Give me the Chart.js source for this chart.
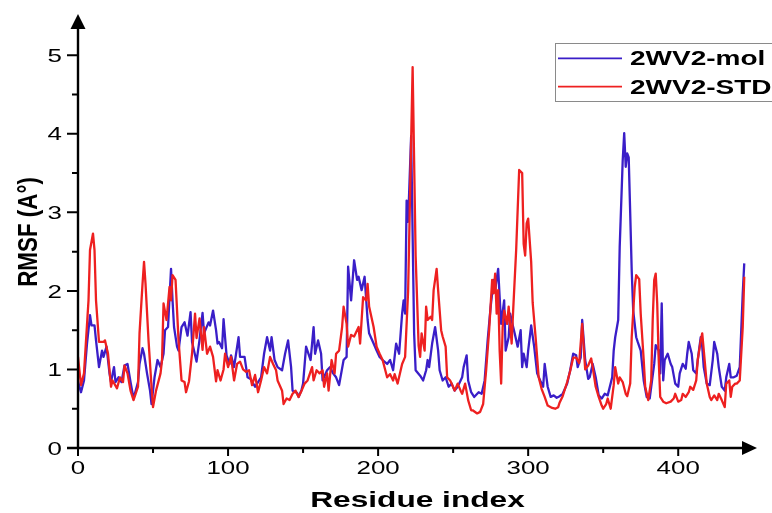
<!DOCTYPE html>
<html>
<head>
<meta charset="utf-8">
<script src="https://cdn.jsdelivr.net/npm/chart.js@4"></script>
<style>
html,body{margin:0;padding:0;background:#fff;}
canvas{display:block;}
</style>
</head>
<body>
<canvas id="c" width="772" height="513"></canvas>
<script>
// ---- data ----
const seriesNames = ["2WV2-mol", "2WV2-STD"];
const molResidue = [0,2,4,6,8,9,11,12,14,16,17,19,21,22,24,25,27,29,31,33,35,37,40,41,43,44,46,48,49,51,53,55,57,58,60,61,62,63,64,66,67,69,71,73,75,76,79,81,83,84,87,88,90,92,93,94,96,97,99,101,102,104,107,108,111,113,115,118,120,122,124,126,128,129,131,133,136,138,140,142,143,146,147,149,150,152,155,157,158,160,162,163,166,168,170,172,174,177,179,180,182,184,186,187,189,191,193,194,197,199,201,203,206,208,210,212,214,216,217,218,219,220,222,224,225,228,230,232,233,234,236,238,240,241,243,245,247,249,251,253,256,257,259,260,262,264,267,269,271,273,275,277,278,280,281,282,284,285,287,288,290,291,293,295,296,297,299,300,302,304,306,308,310,311,313,315,317,319,321,323,326,328,330,332,333,335,336,338,340,341,343,345,347,349,351,353,356,357,358,360,361,363,364,365,366,367,368,369,370,372,373,375,377,379,381,382,384,385,387,388,389,390,391,393,395,396,398,400,401,403,405,406,407,409,410,412,413,415,416,417,419,421,423,424,426,427,429,431,432,434,435,437,439,441,443,444];
const molRmsf = [0.85,0.71,0.86,1.33,1.69,1.56,1.56,1.37,1.03,1.24,1.16,1.29,0.95,0.84,1.03,0.84,0.9,0.84,1.05,1.07,0.84,0.63,0.84,1.07,1.27,1.2,0.95,0.73,0.56,0.9,1.12,1.03,1.2,1.5,1.54,1.92,2.28,1.88,1.54,1.29,1.24,1.54,1.6,1.43,1.73,1.35,1.1,1.38,1.72,1.46,1.6,1.56,1.75,1.5,1.33,1.35,1.27,1.64,1.18,1.07,1.18,1.03,1.41,1.16,1.16,0.9,0.88,0.78,0.84,0.9,1.2,1.41,1.24,1.41,1.12,1.03,0.99,1.2,1.37,1.03,0.73,0.7,0.65,0.74,0.82,1.29,1.12,1.54,1.2,1.37,1.2,0.86,0.99,1.03,0.95,0.9,0.8,1.12,1.16,2.31,1.88,2.39,2.14,2.18,2.01,2.18,1.63,1.46,1.33,1.24,1.16,1.12,1.07,1.12,0.99,1.33,1.2,1.71,1.88,1.71,3.15,2.88,3.97,1.46,0.99,0.92,0.86,0.99,1.12,1.03,1.33,1.54,1.24,0.99,0.86,0.9,0.78,0.82,0.73,0.78,0.9,1.03,1.18,0.86,0.71,0.65,0.71,0.69,0.86,1.37,1.8,2.14,2.01,2.28,1.92,1.58,1.88,1.24,1.41,1.71,1.54,1.46,1.29,1.5,1.03,1.2,1.03,1.24,1.56,1.29,0.95,0.86,0.78,1.07,0.78,0.65,0.67,0.64,0.66,0.69,0.82,0.99,1.2,1.18,1.03,1.15,1.63,1.12,0.88,0.9,1.07,0.9,0.67,0.63,0.69,0.67,0.9,1.24,1.41,1.63,2.56,3.66,4.01,3.58,3.75,3.7,2.99,2.26,1.75,1.41,1.35,1.24,0.86,0.65,0.63,0.78,1.07,1.31,1.24,0.95,1.84,0.86,1.12,1.2,1.07,1.03,0.82,0.78,0.95,1.07,1.01,1.2,1.35,1.2,0.99,0.95,1.12,1.41,1.29,1.03,0.82,0.8,1.12,1.35,1.2,1.03,0.78,0.73,0.9,1.07,0.9,0.9,0.92,1.03,1.97,2.35];
const stdResidue = [0,2,4,7,8,10,11,12,14,17,18,20,22,23,26,28,30,31,33,35,37,40,41,43,44,45,47,49,50,52,55,56,57,59,61,62,63,65,67,69,71,72,74,76,78,79,81,83,84,86,88,90,92,93,95,97,98,100,102,104,106,108,110,112,114,116,118,120,122,124,126,128,130,132,133,136,137,139,141,143,145,147,149,151,153,156,157,159,161,163,164,166,167,169,171,172,174,176,177,179,180,182,184,187,188,190,192,193,194,197,199,201,203,206,208,210,211,213,216,218,220,221,223,225,227,228,229,230,231,232,233,235,236,237,239,240,242,243,245,246,248,249,251,253,255,256,258,260,262,263,266,268,270,272,274,276,277,278,279,280,281,282,283,284,286,287,289,290,292,294,296,297,298,299,300,302,303,305,307,309,311,313,316,318,320,321,323,326,328,330,332,334,336,337,338,340,342,343,345,347,349,350,352,353,355,357,358,360,361,363,365,366,368,369,371,372,374,375,377,378,380,382,383,384,385,386,387,388,390,392,395,397,398,400,402,403,405,407,408,410,412,413,415,416,417,419,421,422,424,426,427,429,431,432,434,435,436,438,439,441,443,444];
const stdRmsf = [1.16,0.8,0.95,1.88,2.52,2.73,2.52,1.88,1.35,1.35,1.37,1.2,0.78,0.86,0.76,0.9,0.84,1.05,0.95,0.73,0.61,0.78,1.46,2.09,2.37,2.09,1.37,0.78,0.52,0.73,0.95,1.12,1.84,1.63,2.05,1.88,2.2,2.14,1.37,0.86,0.84,0.71,0.85,1.2,1.71,1.4,1.65,1.25,1.54,1.2,1.29,1.16,0.85,0.99,0.86,1.0,1.2,1.03,1.16,0.86,1.07,1.1,1.0,0.97,0.99,0.8,0.93,0.71,0.86,1.03,0.95,1.16,1.07,0.99,0.86,0.73,0.56,0.63,0.61,0.69,0.73,0.65,0.73,0.82,0.86,1.03,0.86,0.99,0.95,0.99,0.78,0.95,0.73,1.12,0.95,1.2,1.24,1.54,1.8,1.58,1.29,1.44,1.42,1.54,1.33,1.92,1.88,2.09,1.8,1.54,1.29,1.2,1.12,0.9,0.94,0.86,0.94,0.82,1.07,1.16,2.0,2.94,4.85,2.45,1.3,1.16,1.46,1.35,1.24,1.8,1.63,1.67,1.63,2.01,2.28,2.01,1.5,1.42,1.29,0.9,0.86,0.82,0.73,0.82,0.73,0.69,0.82,0.61,0.48,0.48,0.44,0.46,0.56,0.99,1.5,2.14,1.97,2.22,1.71,2.01,1.24,0.82,1.54,1.75,1.58,1.8,1.33,1.75,2.52,3.54,3.5,2.6,2.45,2.86,2.92,2.37,1.85,1.4,0.9,0.75,0.65,0.54,0.51,0.5,0.52,0.58,0.66,0.84,0.98,1.15,1.15,1.08,1.58,1.29,1.0,1.05,1.14,1.03,0.78,0.65,0.54,0.5,0.56,0.63,0.5,0.8,1.03,0.82,0.9,0.84,0.69,0.66,0.82,1.41,2.05,2.2,2.15,1.71,1.12,0.78,0.61,0.86,1.63,2.14,2.22,1.84,1.12,0.65,0.59,0.57,0.59,0.63,0.69,0.59,0.61,0.69,0.65,0.71,0.78,0.74,0.86,1.12,1.37,1.46,1.25,0.82,0.65,0.61,0.67,0.61,0.69,0.61,0.52,0.82,0.86,0.65,0.78,0.82,0.82,0.86,1.54,2.18];
const xTickLabels = [0, 100, 200, 300, 400];
const xMinorTicks = [50, 150, 250, 350];
const yTickLabels = [0, 1, 2, 3, 4, 5];
const yMinorTicks = [0.5, 1.5, 2.5, 3.5, 4.5];
const xTitle = "Residue index";
const yTitle = "RMSF (A°)";

// ---- styling ----
const MOL_COLOR = "#3a1ec8";
const STD_COLOR = "#ee2020";
const FONT = "'Liberation Sans', Arial, sans-serif";
const STRETCH = 1.4;

function pts(xs, ys) { return xs.map((x, i) => ({ x: x, y: ys[i] })); }

function stretchedText(ctx, text, x, y, align, font, sx) {
  ctx.save();
  ctx.font = font;
  ctx.translate(x, y);
  ctx.scale(sx, 1);
  ctx.textAlign = align;
  ctx.textBaseline = "alphabetic";
  ctx.fillText(text, 0, 0);
  ctx.restore();
}

const decor = {
  id: "decor",
  afterDraw(chart) {
    const ctx = chart.ctx;
    const xs = chart.scales.x, ys = chart.scales.y;
    const x0 = xs.getPixelForValue(0), y0 = ys.getPixelForValue(0);
    ctx.save();
    ctx.fillStyle = "#000";
    ctx.strokeStyle = "#000";
    ctx.lineWidth = 2.4;
    // axes lines
    ctx.beginPath();
    ctx.moveTo(x0, y0); ctx.lineTo(x0, chart.chartArea.top + 2);
    ctx.moveTo(x0 - 11, y0); ctx.lineTo(chart.chartArea.right - 4, y0);
    ctx.stroke();
    // arrowheads
    const top = chart.chartArea.top;
    ctx.beginPath();
    ctx.moveTo(x0, top - 2); ctx.lineTo(x0 - 7.5, top + 13); ctx.lineTo(x0 + 7.5, top + 13); ctx.closePath(); ctx.fill();
    const right = chart.chartArea.right;
    ctx.beginPath();
    ctx.moveTo(right, y0); ctx.lineTo(right - 15, y0 - 7); ctx.lineTo(right - 15, y0 + 7); ctx.closePath(); ctx.fill();
    // y ticks
    ctx.lineWidth = 2;
    ctx.beginPath();
    yTickLabels.forEach(v => { const p = ys.getPixelForValue(v); ctx.moveTo(x0 - 11, p); ctx.lineTo(x0, p); });
    yMinorTicks.forEach(v => { const p = ys.getPixelForValue(v); ctx.moveTo(x0 - 6, p); ctx.lineTo(x0, p); });
    // x ticks
    xTickLabels.forEach(v => { const p = xs.getPixelForValue(v); ctx.moveTo(p, y0); ctx.lineTo(p, y0 + 8); });
    xMinorTicks.forEach(v => { const p = xs.getPixelForValue(v); ctx.moveTo(p, y0); ctx.lineTo(p, y0 + 5); });
    ctx.stroke();
    // tick labels
    const tf = "18.5px " + FONT;
    yTickLabels.forEach(v => {
      stretchedText(ctx, String(v), x0 - 16, ys.getPixelForValue(v) + 6.6, "right", tf, STRETCH);
    });
    xTickLabels.forEach(v => {
      stretchedText(ctx, String(v), xs.getPixelForValue(v), y0 + 25.5, "center", tf, STRETCH);
    });
    // axis titles
    stretchedText(ctx, xTitle, (x0 + right) / 2, 507, "center", "bold 22.6px " + FONT, STRETCH);
    ctx.save();
    ctx.font = "bold 22.4px " + FONT;
    ctx.translate(37, 232);
    ctx.scale(1.25, 1);
    ctx.rotate(-Math.PI / 2);
    ctx.textAlign = "center";
    ctx.textBaseline = "alphabetic";
    ctx.fillText(yTitle, 0, 0);
    ctx.restore();
    // legend
    ctx.lineWidth = 1;
    ctx.strokeStyle = "#8a8a8a";
    ctx.strokeRect(555.5, 43.5, 240, 58);
    const colors = [MOL_COLOR, STD_COLOR];
    const ly = [58.3, 86.7];
    seriesNames.forEach((name, i) => {
      ctx.strokeStyle = colors[i];
      ctx.lineWidth = 1.8;
      ctx.beginPath(); ctx.moveTo(558, ly[i]); ctx.lineTo(622, ly[i]); ctx.stroke();
      ctx.fillStyle = "#000";
      stretchedText(ctx, name, 630, ly[i] + 6.9, "left", "bold 20px " + FONT, STRETCH);
    });
    ctx.restore();
  }
};

new Chart(document.getElementById("c"), {
  type: "line",
  data: {
    datasets: [
      { label: seriesNames[0], data: pts(molResidue, molRmsf), borderColor: MOL_COLOR, borderWidth: 2.3, borderJoinStyle: "round", pointRadius: 0, tension: 0, order: 1 },
      { label: seriesNames[1], data: pts(stdResidue, stdRmsf), borderColor: STD_COLOR, borderWidth: 2.3, borderJoinStyle: "round", pointRadius: 0, tension: 0, order: 0 }
    ]
  },
  options: {
    responsive: false,
    animation: false,
    events: [],
    layout: { padding: { top: 16, right: 15, left: 0, bottom: 0 } },
    plugins: { legend: { display: false }, tooltip: { enabled: false } },
    scales: {
      x: {
        type: "linear", min: 0, max: 452.5,
        grid: { display: false }, border: { display: false },
        ticks: { display: false },
        afterFit(s) { s.height = 65; }
      },
      y: {
        type: "linear", min: 0, max: 5.5,
        grid: { display: false }, border: { display: false },
        ticks: { display: false },
        afterFit(s) { s.width = 78; }
      }
    }
  },
  plugins: [decor]
});
</script>
</body>
</html>
